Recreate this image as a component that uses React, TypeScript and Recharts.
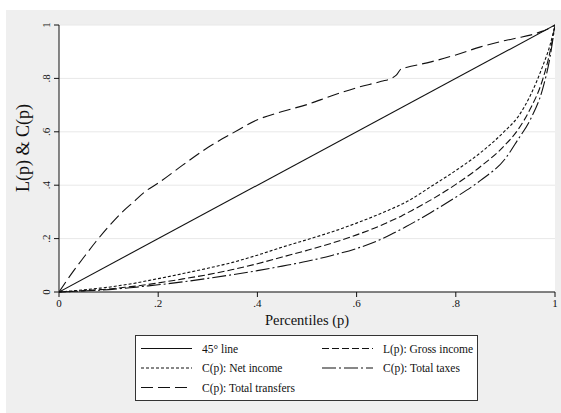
import React from 'react'
import { LineChart, Line, XAxis, YAxis, CartesianGrid, Legend } from 'recharts'

// percentiles (p) shared by the concentration curves
const pGrid = [
  0, 0.025, 0.05, 0.075, 0.1, 0.125, 0.15, 0.175, 0.2, 0.25, 0.3, 0.35, 0.4, 0.45, 0.5, 0.55,
  0.6, 0.65, 0.67, 0.68, 0.69, 0.7, 0.75, 0.8, 0.85, 0.9, 0.925, 0.95, 0.975, 0.99, 1,
]
const grossIncome = [
  0, 0.002, 0.005, 0.008, 0.011, 0.016, 0.021, 0.027, 0.034, 0.049, 0.065, 0.084, 0.106, 0.131,
  0.156, 0.183, 0.214, 0.25, 0.267, 0.275, 0.284, 0.294, 0.345, 0.403, 0.47, 0.552, 0.607, 0.685,
  0.795, 0.9, 1,
]
const netIncome = [
  0, 0.004, 0.008, 0.013, 0.018, 0.025, 0.032, 0.041, 0.05, 0.069, 0.089, 0.111, 0.138, 0.168,
  0.196, 0.225, 0.258, 0.295, 0.311, 0.319, 0.328, 0.337, 0.395, 0.455, 0.522, 0.605, 0.655,
  0.735, 0.845, 0.925, 1,
]
const totalTaxes = [
  0, 0.002, 0.004, 0.006, 0.009, 0.013, 0.017, 0.022, 0.027, 0.038, 0.051, 0.065, 0.08, 0.097,
  0.115, 0.137, 0.163, 0.198, 0.216, 0.226, 0.235, 0.245, 0.298, 0.355, 0.418, 0.5, 0.57, 0.645,
  0.76, 0.88, 1,
]
const totalTransfers = [
  0, 0.068, 0.13, 0.19, 0.245, 0.295, 0.337, 0.378, 0.408, 0.476, 0.541, 0.595, 0.645, 0.676,
  0.702, 0.735, 0.765, 0.789, 0.8, 0.812, 0.836, 0.841, 0.862, 0.888, 0.918, 0.942, 0.952, 0.962,
  0.977, 0.988, 1,
]
// 45 degree line end points
const diagP = [0, 1]
const diagV = [0, 1]

const xTicks = [0, 0.2, 0.4, 0.6, 0.8, 1]
const xTickLabels = ['0', '.2', '.4', '.6', '.8', '1']
const yTicks = [0, 0.2, 0.4, 0.6, 0.8, 1]
const yTickLabels = ['0', '.2', '.4', '.6', '.8', '1']

const data = pGrid.map((p, i) => ({
  p,
  gross: grossIncome[i],
  net: netIncome[i],
  taxes: totalTaxes[i],
  transfers: totalTransfers[i],
}))
const diagData = diagP.map((p, i) => ({ p, diag: diagV[i] }))

const FONT = '"Liberation Serif", "DejaVu Serif", serif'
const INK = '#111'

const series = [
  { key: 'diag', name: '45° line', dash: undefined as string | undefined },
  { key: 'gross', name: 'L(p): Gross income', dash: '7 3' },
  { key: 'net', name: 'C(p): Net income', dash: '3 2' },
  { key: 'taxes', name: 'C(p): Total taxes', dash: '14 3 2 3' },
  { key: 'transfers', name: 'C(p): Total transfers', dash: '12 5' },
]

const fmt = (v: number, ticks: number[], labels: string[]) => {
  const i = ticks.findIndex((t) => Math.abs(t - v) < 1e-9)
  return i >= 0 ? labels[i] : String(v)
}

const YTick = (props: any) => {
  const { x, y, payload } = props
  const tx = x - 2
  return (
    <text
      x={tx}
      y={y}
      transform={`rotate(-90 ${tx} ${y})`}
      textAnchor="middle"
      fontFamily={FONT}
      fontSize={11}
      fill={INK}
    >
      {fmt(payload.value, yTicks, yTickLabels)}
    </text>
  )
}

const XTick = (props: any) => {
  const { x, y, payload } = props
  return (
    <text x={x} y={y + 8} textAnchor="middle" fontFamily={FONT} fontSize={11} fill={INK}>
      {fmt(payload.value, xTicks, xTickLabels)}
    </text>
  )
}

const LegendBox = () => (
  <svg width={344} height={67} style={{ display: 'block' }}>
    <rect x={0.5} y={0.5} width={342} height={65} fill="#fff" stroke="#333" strokeWidth={1} />
    {series.map((s, i) => {
      const col = i % 2
      const row = Math.floor(i / 2)
      const ly = 13.5 + row * 19.5
      const x0 = col === 0 ? 6 : 187
      return (
        <g key={s.key}>
          <line x1={x0} x2={x0 + 51} y1={ly} y2={ly} stroke={INK} strokeWidth={1.2} strokeDasharray={s.dash} />
          <text x={x0 + 61} y={ly + 4} fontFamily={FONT} fontSize={11.5} fill={INK}>
            {s.name}
          </text>
        </g>
      )
    })}
  </svg>
)

export default function App() {
  return (
    <div style={{ position: 'absolute', left: 0, top: 0, width: 561, height: 413 }}>
      <div style={{ position: 'absolute', left: 6, top: 10, right: 0, bottom: 0, background: '#efefef' }} />
      <LineChart width={561} height={413} margin={{ top: 25, right: 6, bottom: 91, left: 19 }}>
        <CartesianGrid vertical={false} fill="#fff" stroke="#e8e8e8" strokeWidth={1} />
        <XAxis
          dataKey="p"
          type="number"
          domain={[0, 1]}
          ticks={xTicks}
          height={30}
          allowDataOverflow
          axisLine={{ stroke: INK }}
          tickLine={{ stroke: INK }}
          tickSize={5}
          tickMargin={2}
          tick={<XTick />}
          label={({ viewBox }: any) => (
            <text
              x={viewBox.x + viewBox.width / 2}
              y={viewBox.y + 33}
              textAnchor="middle"
              fontFamily={FONT}
              fontSize={14.5}
              fill={INK}
            >
              Percentiles (p)
            </text>
          )}
        />
        <YAxis
          type="number"
          domain={[0, 1]}
          ticks={yTicks}
          width={40}
          axisLine={{ stroke: INK }}
          tickLine={{ stroke: INK }}
          tickSize={5}
          tickMargin={2}
          tick={<YTick />}
          label={() => (
            <text
              x={29}
              y={148}
              transform="rotate(-90 29 148)"
              textAnchor="middle"
              fontFamily={FONT}
              fontSize={18}
              fill={INK}
            >
              L(p) &amp; C(p)
            </text>
          )}
        />
        <Legend
          layout="horizontal"
          verticalAlign="middle"
          align="center"
          wrapperStyle={{ left: 135, top: 335, width: 344, height: 67 }}
          content={() => <LegendBox />}
        />
        <Line
          data={diagData}
          dataKey="diag"
          name="45° line"
          type="linear"
          stroke={INK}
          strokeWidth={1.1}
          dot={false}
          isAnimationActive={false}
        />
        {series.slice(1).map((s) => (
          <Line
            key={s.key}
            data={data}
            dataKey={s.key}
            name={s.name}
            type="monotone"
            stroke={INK}
            strokeWidth={1.1}
            strokeDasharray={s.dash}
            dot={false}
            isAnimationActive={false}
          />
        ))}
      </LineChart>
    </div>
  )
}
